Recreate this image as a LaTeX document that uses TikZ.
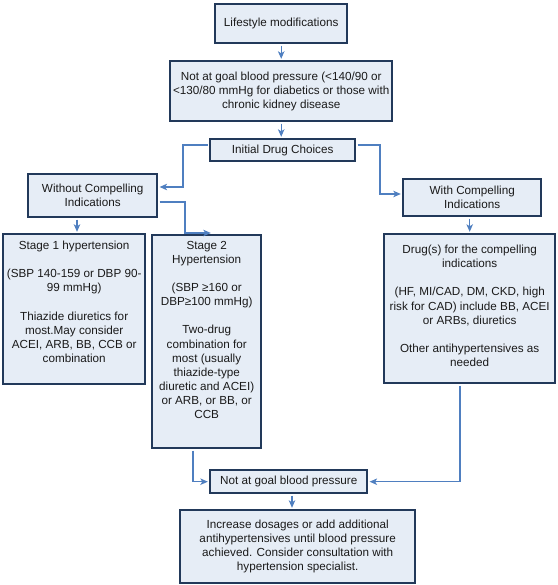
\documentclass[tikz,border=0pt]{standalone}
\usepackage{fontspec}
\setmainfont{Liberation Sans}
\usetikzlibrary{arrows.meta,calc}
\definecolor{boxfill}{HTML}{E6EDF6}
\definecolor{boxdraw}{HTML}{22395A}
\definecolor{conncol}{HTML}{4F7FC0}
\definecolor{textcol}{HTML}{1A1A1A}
\newcommand{\myfont}{\fontsize{11.7}{14.1}\selectfont}
\tikzset{
  box/.style={draw=boxdraw, fill=boxfill, line width=2.4pt, rectangle, inner sep=0pt, anchor=north west, align=center, font=\myfont, text=textcol},
  txt/.style={inner sep=0pt, align=center, font=\myfont, text=textcol, anchor=north},
  conn/.style={draw=conncol, line width=1.1pt, shorten <=1.2pt, shorten >=1.2pt, -{Stealth[length=7.5pt,width=6.5pt,inset=2pt]}}
}
\begin{document}
\begin{tikzpicture}[x=1pt,y=-1pt]
\useasboundingbox (0,0) rectangle (557,585);
\node[box, minimum width=132pt, minimum height=39pt] (life) at (214,3) {Lifestyle modifications};
\node[box, minimum width=222pt, minimum height=60pt] (goal1) at (169,60) {Not at goal blood pressure (<140/90 or\\<130/80 mmHg for diabetics or those with\\chronic kidney disease};
\node[box, minimum width=145pt, minimum height=22pt] (init) at (209,138) {Initial Drug Choices};
\node[box, minimum width=129pt, minimum height=43pt] (wo) at (27,173) {Without Compelling\\Indications};
\node[box, minimum width=138pt, minimum height=37pt] (wi) at (402,178) {With Compelling\\Indications};
\node[box, minimum width=142pt, minimum height=150pt] (s1) at (2,233) {};
\node[txt] (s1t) at ($(s1.north)+(0,8)$) {Stage 1 hypertension\\[14.1pt](SBP 140-159 or DBP 90-\\99 mmHg)\\[14.1pt]Thiazide diuretics for\\most.May consider\\ACEI, ARB, BB, CCB or\\combination};
\node[box, minimum width=109pt, minimum height=213pt] (s2) at (151,234) {};
\node[txt] (s2t) at ($(s2.north)+(0,7)$) {Stage 2\\Hypertension\\[14.1pt](SBP ≥160 or\\DBP≥100 mmHg)\\[14.1pt]Two-drug\\combination for\\most (usually\\thiazide-type\\diuretic and ACEI)\\or ARB, or BB, or\\CCB};
\node[box, minimum width=171pt, minimum height=149pt] (dr) at (383,233) {};
\node[txt] (drt) at ($(dr.north)+(0,12)$) {Drug(s) for the compelling\\indications\\[14.1pt](HF, MI/CAD, DM, CKD, high\\risk for CAD) include BB, ACEI\\or ARBs, diuretics\\[14.1pt]Other antihypertensives as\\needed};
\node[box, minimum width=157pt, minimum height=23pt] (goal2) at (209,469) {Not at goal blood pressure};
\node[box, minimum width=235pt, minimum height=73pt] (fin) at (179,509) {Increase dosages or add additional\\antihypertensives until blood pressure\\achieved. Consider consultation with\\hypertension specialist.};
% connectors
\draw[conn] (life.south) -- (goal1.north -| life.south);
\draw[conn] (goal1.south) -- (init.north -| goal1.south);
\coordinate (c1) at (183,145);
\coordinate (c1b) at (183,187);
\draw[conn] (init.west |- c1) -- (c1) -- (c1b) -- (wo.east |- c1b);
\coordinate (c2) at (380,145);
\coordinate (c2b) at (380,194);
\draw[conn] (init.east |- c2) -- (c2) -- (c2b) -- (wi.west |- c2b);
\coordinate (c3) at (77,0);
\draw[conn] (wo.south -| c3) -- (s1.north -| c3);
\coordinate (c4a) at (185,202);
\coordinate (c4b) at (185,233);
\coordinate (c4c) at (212,233);
\draw[conn] (wo.east |- c4a) -- (c4a) -- (c4b) -- (c4c);
\draw[conn] (wi.south -| dr.north) -- (dr.north);
\coordinate (c5) at (460,0);
\draw[conn] (dr.south -| c5) -- (c5 |- goal2.east) -- (goal2.east);
\coordinate (c6) at (193,0);
\draw[conn] (s2.south -| c6) -- (c6 |- goal2.west) -- (goal2.west);
\coordinate (c7) at (292,0);
\draw[conn] (goal2.south -| c7) -- (fin.north -| c7);
\end{tikzpicture}
\end{document}
